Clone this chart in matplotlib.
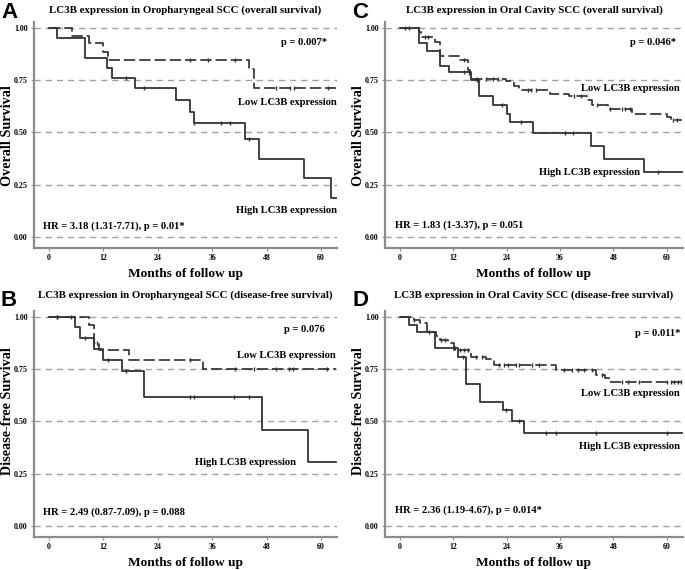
import numpy as np
import matplotlib
matplotlib.use("Agg")
import matplotlib.pyplot as plt

SERIF = ["Liberation Serif", "DejaVu Serif"]
SANS = ["Liberation Sans", "DejaVu Sans"]

# ---------------- data ----------------
# Panel A: Oropharyngeal SCC, overall survival
A_low_t = [0, 5, 8.8, 11.9, 13, 44, 45.2]
A_low_s = [1.0, 0.963, 0.927, 0.885, 0.846, 0.803, 0.714]
A_low_end = 63.3
A_low_cens = [31, 35, 41, 50, 53.2, 54, 61.5]
A_high_t = [0, 1.8, 7.9, 12.9, 13.9, 19, 28, 31.1, 32, 43.2, 46.2, 56.2, 62.2]
A_high_s = [1.0, 0.952, 0.857, 0.81, 0.762, 0.712, 0.656, 0.60, 0.547, 0.468, 0.375, 0.281, 0.188]
A_high_end = 63.5
A_high_cens = [17, 21, 32, 38, 40, 44]

# Panel B: Oropharyngeal SCC, disease-free survival
B_low_t = [0, 8.9, 10, 11.1, 17.7, 33.9]
B_low_s = [1.0, 0.963, 0.877, 0.84, 0.795, 0.75]
B_low_end = 63.3
B_low_cens = [1.8, 4.8, 10.5, 31.1, 41.1, 45.2, 50, 53, 53.9, 61.4]
B_high_t = [0, 5.7, 6.8, 10, 12, 16, 21, 46.9, 57.2]
B_high_s = [1.0, 0.95, 0.90, 0.846, 0.795, 0.741, 0.616, 0.461, 0.307]
B_high_end = 63.3
B_high_cens = [1.8, 7.9, 13, 17, 31, 32, 40.9, 44.2]

# Panel C: Oral cavity SCC, overall survival
C_low_t = [0, 4.2, 4.8, 7.8, 8.9, 13.4, 15.2, 15.8, 16.3, 23.8, 25.7, 26.8,
           33.7, 38, 42.1, 43.2, 46.8, 52.2, 60.2, 60.9]
C_low_s = [1.0, 0.98, 0.957, 0.935, 0.865, 0.845, 0.80, 0.775, 0.755, 0.745, 0.72, 0.705,
           0.686, 0.674, 0.655, 0.632, 0.611, 0.586, 0.575, 0.56]
C_low_end = 63.4
C_low_cens = [1, 2, 5.5, 6.2, 14.3, 17.3, 19.3, 21, 22, 28.7, 29.4, 30.5,
              39.1, 40.8, 44.3, 47.3, 50, 50.7, 51.8, 61.5, 62.4]
C_high_t = [0, 4.2, 6.1, 8.9, 11, 16, 17.8, 21, 24, 24.7, 30, 42.9, 46, 54.9]
C_high_s = [1.0, 0.928, 0.892, 0.82, 0.79, 0.752, 0.674, 0.632, 0.59, 0.548, 0.498, 0.435, 0.374, 0.31]
C_high_end = 63.4
C_high_cens = [14.3, 15.6, 17.4, 23, 27.2, 37.1, 39, 58.1]

# Panel D: Oral cavity SCC, disease-free survival
D_low_t = [0, 3.1, 4.4, 6.1, 8.1, 8.9, 10.7, 12.2, 16, 19.3, 21.2, 35, 44, 46.2, 47.1]
D_low_s = [1.0, 0.986, 0.97, 0.93, 0.907, 0.89, 0.875, 0.843, 0.81, 0.80, 0.77, 0.746, 0.722, 0.71, 0.69]
D_low_end = 63.4
D_low_cens = [3.1, 6.5, 9.3, 10.2, 13.4, 14.5, 15.2, 17.2, 18.4, 22.2, 23.4, 24.2, 26,
              26.7, 29.8, 31.3, 36.9, 38.8, 40.1, 41.4, 43.1, 45.5, 49.9, 51.4, 53.7,
              60.2, 61, 61.7, 62.5, 63.2]
D_high_t = [0, 1.9, 3.8, 7.9, 13, 14.9, 18, 23.1, 25.1, 27.9]
D_high_s = [1.0, 0.963, 0.928, 0.85, 0.81, 0.68, 0.595, 0.555, 0.504, 0.446]
D_high_end = 63.4
D_high_cens = [12.3, 14.1, 23.9, 26.8, 32.8, 35, 44, 60.2]

titles = ["LC3B expression in Oropharyngeal SCC (overall survival)",
          "LC3B expression in Oral Cavity SCC (overall survival)",
          "LC3B expression in Oropharyngeal SCC (disease-free survival)",
          "LC3B expression in Oral Cavity SCC (disease-free survival)"]
letters = ["A", "C", "B", "D"]
ylabels = ["Overall Survival", "Overall Survival", "Disease-free Survival", "Disease-free Survival"]
pvals = ["p = 0.007*", "p = 0.046*", "p = 0.076", "p = 0.011*"]
hrs = ["HR = 3.18 (1.31-7.71), p = 0.01*", "HR = 1.83 (1-3.37), p = 0.051",
       "HR = 2.49 (0.87-7.09), p = 0.088", "HR = 2.36 (1.19-4.67), p = 0.014*"]
xticks = [0, 12, 24, 36, 48, 60]
yticks = [0.0, 0.25, 0.5, 0.75, 1.0]
ytick_labels = ["0.00", "0.25", "0.50", "0.75", "1.00"]

panels = [
    dict(low=(A_low_t, A_low_s, A_low_end, A_low_cens), high=(A_high_t, A_high_s, A_high_end, A_high_cens),
         p=(61.3, 0.93), low_lab=(63.5, 0.643, "right"), high_lab=(63.5, 0.127, "right"), hr=(-1.4, 0.051)),
    dict(low=(C_low_t, C_low_s, C_low_end, C_low_cens), high=(C_high_t, C_high_s, C_high_end, C_high_cens),
         p=(62.2, 0.93), low_lab=(63.0, 0.709, "right"), high_lab=(54.0, 0.306, "right"), hr=(-1.2, 0.056)),
    dict(low=(B_low_t, B_low_s, B_low_end, B_low_cens), high=(B_high_t, B_high_s, B_high_end, B_high_cens),
         p=(60.9, 0.94), low_lab=(63.3, 0.816, "right"), high_lab=(54.5, 0.302, "right"), hr=(-1.4, 0.067)),
    dict(low=(D_low_t, D_low_s, D_low_end, D_low_cens), high=(D_high_t, D_high_s, D_high_end, D_high_cens),
         p=(63.0, 0.923), low_lab=(63.0, 0.635, "right"), high_lab=(63.0, 0.379, "right"), hr=(-1.2, 0.075)),
]

# axes rectangles in pixels (left, top-of-axes, right, bottom-spine)
W, H = 685, 570
rects_px = [(34, 21.7, 337, 248), (385, 21.7, 683, 248),
            (34, 310.7, 337, 537), (385, 310.7, 683, 537)]
xlims = [(-3.3, 63.5), (-3.4, 63.7), (-3.3, 63.5), (-3.4, 63.7)]
title_px_y = [10, 10, 295, 295]
letter_px = [(1, 12), (352, 12), (1, 300), (352, 300)]
ylabel_px = [(7.5, 136), (358.5, 136), (7.5, 411), (358.5, 411)]

fig = plt.figure(figsize=(W / 100, H / 100), dpi=100)
LINE = "#333333"
GRID = "#a0a0a0"
SPINE = "#8c8c8c"


def step_curve(ax, t, s, end, cens, dashed):
    tt = list(t) + [end]
    ss = list(s) + [s[-1]]
    ls = (0, (6.5, 2.3)) if dashed else "-"
    ax.step(tt, ss, where="post", color=LINE, lw=1.3 if not dashed else 1.25,
            linestyle=ls, zorder=3)
    idx = np.searchsorted(np.asarray(t), np.asarray(cens), side="right") - 1
    cy = np.asarray(s)[idx]
    ax.plot(cens, cy, linestyle="none", marker="|", ms=3.5, mew=1.0, color=LINE, zorder=4)


for i, P in enumerate(panels):
    l, t, r, b = rects_px[i]
    ax = fig.add_axes([l / W, 1 - b / H, (r - l) / W, (b - t) / H])
    ax.set_xlim(*xlims[i])
    ax.set_ylim(-0.053, 1.03)
    for y in yticks:
        ax.axhline(y, color=GRID, lw=1.0, linestyle=(0, (4.5, 3.5)), zorder=1)
    step_curve(ax, *P["low"], dashed=True)
    step_curve(ax, *P["high"], dashed=False)

    for sp in ["top", "right"]:
        ax.spines[sp].set_visible(False)
    for sp in ["left", "bottom"]:
        ax.spines[sp].set_color(SPINE)
        ax.spines[sp].set_linewidth(1.6)
    ax.set_xticks(xticks)
    ax.set_xticklabels([str(x) for x in xticks], fontfamily=SERIF, fontweight="bold", fontsize=5.7)
    ax.set_yticks(yticks)
    ax.set_yticklabels(ytick_labels, fontfamily=SERIF, fontweight="bold", fontsize=5.7)
    ax.tick_params(axis="both", length=2.5, width=0.8, color=SPINE, pad=2)
    ax.set_xlabel("Months of follow up", fontfamily=SERIF, fontweight="bold", fontsize=9.6, labelpad=4)
    ax.set_ylabel(ylabels[i], fontfamily=SERIF, fontweight="bold", fontsize=10.2, va="center")
    lxp, lyp = ylabel_px[i]
    ax.yaxis.set_label_coords((lxp - l) / (r - l), (b - lyp) / (b - t))

    fs = 7.6
    ax.text(P["p"][0], P["p"][1], pvals[i], ha="right", va="center",
            fontfamily=SERIF, fontweight="bold", fontsize=fs)
    x, y, ha = P["low_lab"]
    ax.text(x, y, "Low LC3B expression", ha=ha, va="center",
            fontfamily=SERIF, fontweight="bold", fontsize=fs)
    x, y, ha = P["high_lab"]
    ax.text(x, y, "High LC3B expression", ha=ha, va="center",
            fontfamily=SERIF, fontweight="bold", fontsize=fs)
    ax.text(P["hr"][0], P["hr"][1], hrs[i], ha="left", va="center",
            fontfamily=SERIF, fontweight="bold", fontsize=fs)

    cx = (l + r) / 2 / W
    fig.text(cx, 1 - title_px_y[i] / H, titles[i], ha="center", va="center",
             fontfamily=SERIF, fontweight="bold", fontsize=7.8)
    lx, ly = letter_px[i]
    fig.text(lx / W, 1 - ly / H, letters[i], ha="left", va="center",
             fontfamily=SANS, fontweight="bold", fontsize=16)

fig.savefig("out.png", dpi=100)
